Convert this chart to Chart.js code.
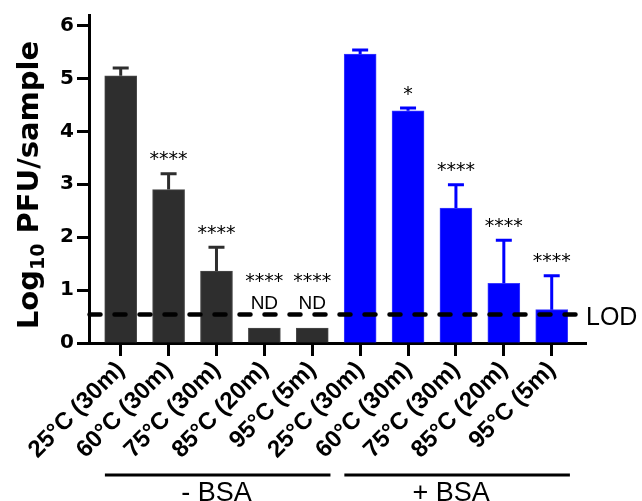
<!DOCTYPE html>
<html>
<head>
<meta charset="utf-8">
<script src="https://cdn.jsdelivr.net/npm/chart.js@4"></script>
<style>
  body { margin: 0; background: #fff; }
</style>
</head>
<body>
<canvas id="pfuCanvas" width="642" height="501"></canvas>
<script>
// Categories (same five treatments for each group)
const categories = ['25°C (30m)', '60°C (30m)', '75°C (30m)', '85°C (20m)', '95°C (5m)',
                    '25°C (30m)', '60°C (30m)', '75°C (30m)', '85°C (20m)', '95°C (5m)'];
const groupLabels = ['- BSA', '+ BSA'];

// Log10 PFU/sample, mean and upper error
const minusBSA = [5.05, 2.90, 1.36, 0.28, 0.28];
const minusBSAErr = [0.15, 0.30, 0.45, 0, 0];
const plusBSA = [5.46, 4.39, 2.55, 1.13, 0.63];
const plusBSAErr = [0.08, 0.05, 0.44, 0.81, 0.64];

// significance marks and "not detected" flags
const minusSig = ['', '****', '****', '****', '****'];
const plusSig = ['', '*', '****', '****', '****'];
const minusND = [false, false, false, true, true];
const plusND = [false, false, false, false, false];

const lod = 0.54;
const yTicks = [0, 1, 2, 3, 4, 5, 6];

const ctx = document.getElementById('pfuCanvas').getContext('2d');

// draws error bars, LOD line, stars, ND and the group brackets
const extrasPlugin = {
    id: 'extras',
    afterDatasetsDraw(chart) {
        const c = chart.ctx;
        const xs = chart.scales.x;
        const ys = chart.scales.y;
        const lodPx = ys.getPixelForValue(lod);

        chart.data.datasets.forEach((ds, d) => {
            const meta = chart.getDatasetMeta(d);
            meta.data.forEach((bar, i) => {
                const v = ds.data[i].y;
                const err = ds.errors[i];
                const topPx = ys.getPixelForValue(v + err);
                c.save();
                c.strokeStyle = ds.backgroundColor;
                c.lineWidth = 3;
                if (err > 0) {
                    c.beginPath();
                    c.moveTo(bar.x, bar.y);
                    c.lineTo(bar.x, topPx);
                    c.moveTo(bar.x - 8, topPx);
                    c.lineTo(bar.x + 8, topPx);
                    c.stroke();
                }
                c.fillStyle = '#000';
                c.textAlign = 'center';
                c.textBaseline = 'alphabetic';
                if (ds.nd[i]) {
                    c.font = '19px "Liberation Sans", Arial, sans-serif';
                    c.fillText('ND', bar.x, lodPx - 5);
                    c.font = '19px "DejaVu Sans", sans-serif';
                    c.fillText(ds.sig[i], bar.x, lodPx - 27);
                } else if (ds.sig[i]) {
                    c.font = '19px "DejaVu Sans", sans-serif';
                    c.fillText(ds.sig[i], bar.x, topPx - 8.5);
                }
                c.restore();
            });
        });

        // limit of detection
        c.save();
        c.strokeStyle = '#000';
        c.lineWidth = 4.5;
        c.lineCap = 'round';
        c.setLineDash([11, 14]);
        c.beginPath();
        c.moveTo(chart.chartArea.left + 0.5, lodPx);
        c.lineTo(chart.chartArea.right - 3, lodPx);
        c.stroke();
        c.setLineDash([]);
        c.fillStyle = '#000';
        c.font = '25px "Liberation Sans", Arial, sans-serif';
        c.textAlign = 'left';
        c.textBaseline = 'middle';
        c.fillText('LOD', chart.chartArea.right, lodPx + 4);
        c.restore();

        // group brackets under the axis
        const groups = [[-0.33, 4.38, 2.0], [4.67, 9.38, 6.9]];
        c.save();
        c.strokeStyle = '#000';
        c.lineWidth = 3;
        c.fillStyle = '#000';
        c.font = '27px "Liberation Sans", Arial, sans-serif';
        c.textAlign = 'center';
        c.textBaseline = 'alphabetic';
        groups.forEach((g, k) => {
            c.beginPath();
            c.moveTo(xs.getPixelForValue(g[0]), 475);
            c.lineTo(xs.getPixelForValue(g[1]), 475);
            c.stroke();
            c.fillText(groupLabels[k], xs.getPixelForValue(g[2]), 501);
        });
        c.restore();
    },
    afterDraw(chart) {
        // y title with subscript
        const c = chart.ctx;
        const big = 'bold 29px "DejaVu Sans", sans-serif';
        const small = 'bold 19px "DejaVu Sans", sans-serif';
        c.save();
        c.font = big;
        const w1 = c.measureText('Log').width;
        const w3 = c.measureText(' PFU/sample').width;
        c.font = small;
        const w2 = c.measureText('10').width;
        const total = w1 + w2 + w3;
        c.translate(38, 185);
        c.rotate(-Math.PI / 2);
        c.fillStyle = '#000';
        c.textBaseline = 'alphabetic';
        c.textAlign = 'left';
        let x = -total / 2;
        c.font = big;
        c.fillText('Log', x, 0);
        x += w1;
        c.font = small;
        c.fillText('10', x, 6);
        x += w2;
        c.font = big;
        c.fillText(' PFU/sample', x, 0);
        c.restore();
    }
};

new Chart(ctx, {
    type: 'bar',
    data: {
        datasets: [{
            label: '- BSA',
            data: minusBSA.map((v, i) => ({ x: i, y: v })),
            errors: minusBSAErr,
            sig: minusSig,
            nd: minusND,
            backgroundColor: '#2e2e2e',
            borderColor: '#4a4a4a',
            borderWidth: 1,
            barThickness: 32,
            grouped: false
        }, {
            label: '+ BSA',
            data: plusBSA.map((v, i) => ({ x: i + 5, y: v })),
            errors: plusBSAErr,
            sig: plusSig,
            nd: plusND,
            backgroundColor: '#0000ff',
            borderColor: '#3a3aff',
            borderWidth: 1,
            barThickness: 32,
            grouped: false
        }]
    },
    options: {
        responsive: false,
        animation: false,
        layout: { padding: { top: 14, right: 56, left: 0, bottom: 0 } },
        plugins: {
            legend: { display: false },
            tooltip: { enabled: false }
        },
        scales: {
            x: {
                type: 'linear',
                offset: false,
                min: -0.662,
                max: 9.716,
                afterBuildTicks: s => { s.ticks = categories.map((_, i) => ({ value: i })); },
                afterFit: s => { s.height = 158; },
                ticks: {
                    autoSkip: false,
                    minRotation: 45,
                    maxRotation: 45,
                    padding: 0,
                    color: '#000',
                    font: { family: 'Liberation Sans', size: 24, weight: 'bold' },
                    callback: v => categories[v]
                },
                grid: {
                    offset: false,
                    drawOnChartArea: false,
                    tickLength: 13,
                    tickWidth: 3,
                    tickColor: '#000'
                },
                border: { color: '#000', width: 3 }
            },
            y: {
                min: 0,
                max: 6.2,
                afterBuildTicks: s => { s.ticks = yTicks.map(v => ({ value: v })); },
                afterFit: s => { s.width = 89; },
                ticks: {
                    padding: 3,
                    color: '#000',
                    font: { family: 'DejaVu Sans', size: 20, weight: 'bold' }
                },
                grid: {
                    drawOnChartArea: false,
                    tickLength: 12,
                    tickWidth: 3,
                    tickColor: '#000'
                },
                border: { color: '#000', width: 3 }
            }
        }
    },
    plugins: [extrasPlugin]
});
</script>
</body>
</html>
